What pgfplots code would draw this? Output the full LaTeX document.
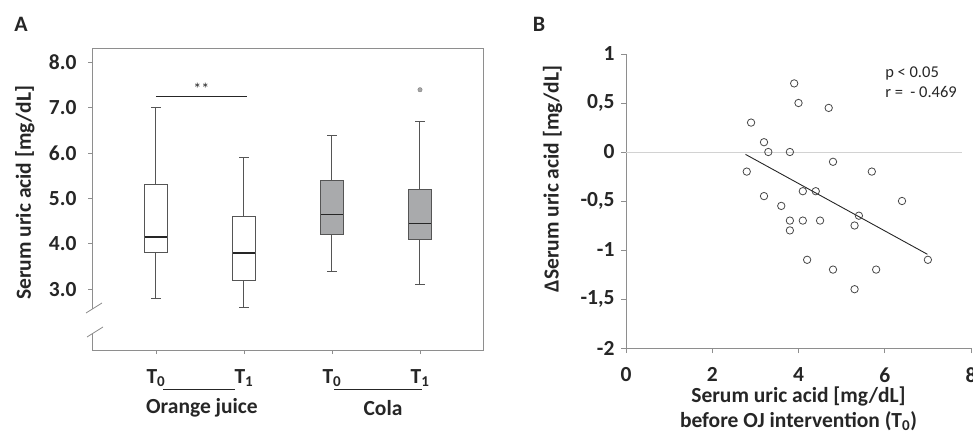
\documentclass[border=0pt]{standalone}
\usepackage{fontspec}
\setmainfont{Carlito}
\usepackage{pgfplots}
\pgfplotsset{compat=1.18}
\usepgfplotslibrary{statistics}

\definecolor{axgray}{HTML}{8E8E8E}
\definecolor{boxgray}{HTML}{A9AAAC}
\definecolor{boxedge}{HTML}{555555}
\definecolor{ink}{HTML}{262626}

\newcommand{\lblfont}{\fontsize{21.5}{25}\selectfont\bfseries}

\begin{document}
\begin{tikzpicture}
\useasboundingbox (0pt,0pt) rectangle (973pt,-435pt);

% ---- panel A: boxplots ----
\begin{axis}[
  at={(92pt,-350pt)}, anchor=south west,
  scale only axis, width=391pt, height=302pt,
  xmin=0.273, xmax=4.716, ymin=1.66, ymax=8.32,
  axis line style={axgray, line width=0.8pt},
  xtick={1,2,3,4},
  xticklabels={T\textsubscript{0},T\textsubscript{1},T\textsubscript{0},T\textsubscript{1}},
  ytick={3,4,5,6,7,8},
  yticklabel style={xshift=-8pt, /pgf/number format/fixed, /pgf/number format/fixed zerofill,
    /pgf/number format/precision=1, /pgf/number format/assume math mode=true},
  xtick pos=bottom, ytick pos=left, tick align=outside, major tick length=4pt,
  tick style={axgray, line width=0.8pt},
  tick label style={font=\lblfont, text=ink},
  xticklabel style={yshift=-12pt},
  ylabel={Serum uric acid [mg/dL]},
  every axis y label/.style={at={(axis description cs:-0.172,0.521)}, rotate=90, anchor=center, font=\lblfont, text=ink},
  boxplot/draw direction=y,
  boxplot/box extend=0.26,
  boxplot/whisker extend=0.11,
  boxplot/every median/.style={line width=1.8pt, draw=ink},
]
\addplot[draw=boxedge, line width=1pt, fill=white,
  boxplot prepared={draw position=1, lower whisker=2.8, lower quartile=3.8,
    median=4.15, upper quartile=5.3, upper whisker=7.0}] coordinates {};
\addplot[draw=boxedge, line width=1pt, fill=white,
  boxplot prepared={draw position=2, lower whisker=2.6, lower quartile=3.2,
    median=3.8, upper quartile=4.6, upper whisker=5.9}] coordinates {};
\addplot[draw=boxedge, line width=1pt, fill=boxgray,
  boxplot prepared={draw position=3, lower whisker=3.4, lower quartile=4.2,
    median=4.65, upper quartile=5.4, upper whisker=6.4}] coordinates {};
\addplot[draw=boxedge, line width=1pt, fill=boxgray,
  boxplot prepared={draw position=4, lower whisker=3.1, lower quartile=4.1,
    median=4.45, upper quartile=5.2, upper whisker=6.7}] coordinates {};
% outlier
\addplot[only marks, mark=*, mark size=2.2pt, mark options={draw=gray, fill=gray!70}] coordinates {(4,7.4)};
% significance bar
\draw[ink, line width=1pt] (axis cs:1,7.26) -- (axis cs:2.03,7.26)
  node[midway, above, font=\fontsize{16}{18}\selectfont, text=ink, inner sep=1.5pt] {**};
\end{axis}

% axis break on the y axis of panel A
\fill[white] (89pt,-309pt) rectangle (95pt,-334pt);
\draw[axgray, line width=0.8pt] (86pt,-313pt) -- (102pt,-303pt);
\draw[axgray, line width=0.8pt] (87pt,-337pt) -- (103pt,-327pt);

% group labels of panel A
\draw[ink, line width=0.6pt] (163pt,-389pt) -- (235pt,-389pt);
\draw[ink, line width=0.6pt] (334pt,-389pt) -- (422pt,-389pt);
\node[font=\lblfont, text=ink] at (202pt,-408pt) {Orange juice};
\node[font=\lblfont, text=ink] at (383pt,-408pt) {Cola};

% ---- panel B: scatter ----
\begin{axis}[
  at={(626pt,-348pt)}, anchor=south west,
  scale only axis, width=345pt, height=294pt,
  xmin=0, xmax=8, ymin=-2, ymax=1,
  axis x line=bottom, axis y line=left,
  axis line style={-, axgray, line width=0.8pt},
  xtick={0,2,4,6,8},
  ytick={-2,-1.5,-1,-0.5,0,0.5,1},
  yticklabels={-2,{-1,5},-1,{-0,5},0,{0,5},1},
  tick align=outside, major tick length=5pt,
  tick style={axgray, line width=0.8pt},
  /pgf/number format/assume math mode=true,
  tick label style={font=\lblfont, text=ink},
  xticklabel style={yshift=-11pt},
  yticklabel style={xshift=-3pt},
  xlabel={Serum uric acid [mg/dL]\\before OJ intervention (T\textsubscript{0})},
  every axis x label/.style={at={(axis description cs:0.5,0)}, anchor=north, yshift=-35pt, align=center, font=\lblfont, text=ink},
  ylabel={ΔSerum uric acid [mg/dL]},
  every axis y label/.style={at={(axis description cs:-0.213,0.575)}, rotate=90, anchor=center, font=\lblfont, text=ink},
  clip=false,
]
\draw[gray!35, line width=0.8pt] (axis cs:0,0) -- (axis cs:7.8,0);
\addplot[only marks, mark=o, mark size=3.7pt, mark options={draw=ink!85, line width=0.8pt}] coordinates {
  (3.9,0.7) (4.0,0.5) (4.7,0.45) (2.9,0.3) (3.2,0.1) (3.3,0) (3.8,0)
  (4.8,-0.1) (2.8,-0.2) (5.7,-0.2) (4.1,-0.4) (4.4,-0.4) (3.2,-0.45)
  (3.6,-0.55) (6.4,-0.5) (5.4,-0.65) (3.8,-0.7) (4.1,-0.7) (4.5,-0.7)
  (5.3,-0.75) (3.8,-0.8) (4.2,-1.1) (4.8,-1.2) (5.8,-1.2) (7.0,-1.1)
  (5.3,-1.4)
};
% regression line
\addplot[ink, line width=0.9pt] coordinates {(2.77,-0.024) (6.99,-1.044)};
\node[anchor=west, align=left, font=\fontsize{16.5}{20}\selectfont, text=ink] at (axis cs:5.93,0.71)
  {p < 0.05\\r =\ \ - 0.469};
\end{axis}

% panel letters
\node[font=\fontsize{22}{26}\selectfont\bfseries, text=ink] at (21pt,-24pt) {A};
\node[font=\fontsize{22}{26}\selectfont\bfseries, text=ink] at (539pt,-24pt) {B};
\end{tikzpicture}
\end{document}
